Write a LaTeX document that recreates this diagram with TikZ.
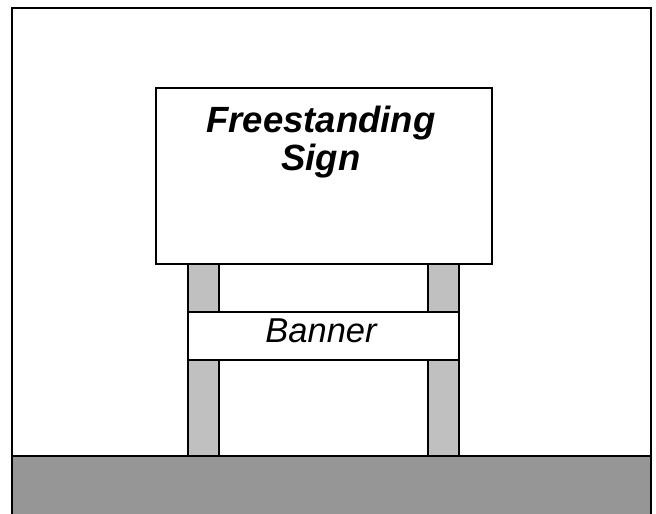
\documentclass[tikz,border=0pt]{standalone}
\usepackage{fontspec}
\setmainfont{Liberation Sans}
\definecolor{postgray}{HTML}{C0C0C0}
\definecolor{groundgray}{HTML}{969696}
\tikzset{
  part/.style={draw=black, line width=2pt, inner sep=0pt, outer sep=0pt, anchor=north west},
  postbox/.style={part, fill=postgray},
  whitebox/.style={part, fill=white},
  groundbox/.style={part, fill=groundgray},
  signtext/.style={font=\fontsize{36.5}{40}\selectfont\bfseries\itshape, anchor=base, inner sep=0pt},
  bannertext/.style={font=\fontsize{34.5}{40}\selectfont\itshape, anchor=base, inner sep=0pt}
}
\begin{document}
\begin{tikzpicture}[x=1pt,y=-1pt]
\useasboundingbox (0,0) rectangle (656,514);
\clip (0,0) rectangle (656,514);
% outer frame
\node[whitebox, minimum width=639pt, minimum height=520pt] (frame) at (12,8) {};
% posts
\node[postbox, minimum width=31.6pt, minimum height=196pt] (leftpost) at (187.7,262) {};
\node[postbox, minimum width=31.6pt, minimum height=196pt] (rightpost) at (427.7,262) {};
% sign
\node[whitebox, minimum width=336pt, minimum height=175.7pt] (sign) at (155.7,88.3) {};
\node[signtext] (signline1) at (321,132) {Freestanding};
\node[signtext] (signline2) at (321,170) {Sign};
% banner
\node[whitebox, minimum width=271.6pt, minimum height=48pt] (banner) at (187.7,312) {};
\node[bannertext] (bannerlabel) at (321,342) {Banner};
% ground
\node[groundbox, minimum width=639pt, minimum height=70pt] (ground) at (12,456) {};
\end{tikzpicture}
\end{document}
